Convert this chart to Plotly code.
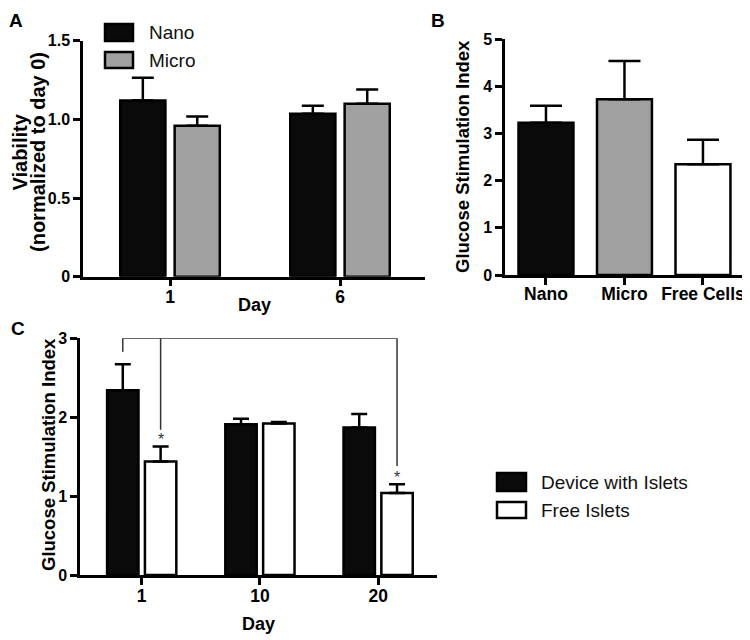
import plotly.graph_objects as go

# ---------------- data ----------------
a_days = ["1", "6"]
a_nano = [1.12, 1.035]
a_nano_err = [0.145, 0.052]
a_micro = [0.96, 1.10]
a_micro_err = [0.058, 0.09]

b_groups = ["Nano", "Micro", "Free Cells"]
b_values = [3.23, 3.73, 2.35]
b_err = [0.36, 0.81, 0.52]

c_days = ["1", "10", "20"]
c_device = [2.34, 1.91, 1.87]
c_device_err = [0.33, 0.07, 0.17]
c_free = [1.44, 1.92, 1.04]
c_free_err = [0.19, 0.02, 0.11]

# ---------------- style ----------------
PAGE_MARGIN = 8  # default body margin of the html page
W, H = 750 - PAGE_MARGIN, 640 - PAGE_MARGIN
BLACK = "#0a0a0a"
GREY = "#a0a0a0"
WHITE = "#ffffff"
FONT = "Liberation Sans, Arial, sans-serif"
LW = 2.5
BARGAP = 0.36
GROUPGAP = 0.17


def px(x):
    return (x - PAGE_MARGIN) / W


def py(y):
    return 1 - (y - PAGE_MARGIN) / H


def err(vals, w):
    return dict(type="data", array=vals, arrayminus=[0] * len(vals), symmetric=False,
                color="black", thickness=LW, width=w)


fig = go.Figure()

# Panel A
fig.add_trace(go.Bar(x=a_days, y=a_nano, name="Nano", marker=dict(color=BLACK, line=dict(color="black", width=LW)),
                     error_y=err(a_nano_err, 11), xaxis="x", yaxis="y", showlegend=False))
fig.add_trace(go.Bar(x=a_days, y=a_micro, name="Micro", marker=dict(color=GREY, line=dict(color="black", width=LW)),
                     error_y=err(a_micro_err, 11), xaxis="x", yaxis="y", showlegend=False))

# Panel B
fig.add_trace(go.Bar(x=b_groups, y=b_values, width=0.7,
                     marker=dict(color=[BLACK, GREY, WHITE], line=dict(color="black", width=LW)),
                     error_y=err(b_err, 16), xaxis="x2", yaxis="y2", showlegend=False))

# Panel C
fig.add_trace(go.Bar(x=c_days, y=c_device, name="Device with Islets",
                     marker=dict(color=BLACK, line=dict(color="black", width=LW)),
                     error_y=err(c_device_err, 8), xaxis="x3", yaxis="y3", showlegend=False))
fig.add_trace(go.Bar(x=c_days, y=c_free, name="Free Islets",
                     marker=dict(color=WHITE, line=dict(color="black", width=LW)),
                     error_y=err(c_free_err, 8), xaxis="x3", yaxis="y3", showlegend=False))

xtickfont = dict(family=FONT, size=17.5, color="black", weight="bold")
ytickfont = dict(family=FONT, size=16, color="black", weight="bold")
common = dict(showline=True, linecolor="black", linewidth=LW, ticks="outside", ticklen=7,
              tickwidth=LW, tickcolor="black", showgrid=False, zeroline=False,
              automargin=False, fixedrange=True, ticklabeloverflow="allow")

fig.update_layout(
    width=W, height=H, margin=dict(l=0, r=0, t=0, b=0),
    paper_bgcolor="white", plot_bgcolor="white",
    barmode="group", bargap=BARGAP, bargroupgap=GROUPGAP,
    xaxis=dict(domain=[px(83), px(425)], type="category", range=[-0.512, 1.5], anchor="y",
               ticklabelstandoff=-4, tickfont=xtickfont, **common),
    yaxis=dict(domain=[py(276.7), py(40.7)], range=[0, 1.5], tickvals=[0, 0.5, 1, 1.5],
               ticktext=["0", "0.5", "1.0", "1.5"], anchor="x", tickfont=ytickfont, **common),
    xaxis2=dict(domain=[px(505), px(743)], type="category", range=[-0.522, 2.51], anchor="y2",
                ticklabelstandoff=-6, tickfont=xtickfont, **common),
    yaxis2=dict(domain=[py(275), py(39.3)], range=[0, 5], tickvals=[0, 1, 2, 3, 4, 5], anchor="x2",
                tickfont=ytickfont, **common),
    xaxis3=dict(domain=[px(80), px(437)], type="category", range=[-0.522, 2.498], anchor="y3",
                ticklabelstandoff=-4, tickfont=xtickfont, **common),
    yaxis3=dict(domain=[py(575), py(338.3)], range=[0, 3], tickvals=[0, 1, 2, 3], anchor="x3",
                tickfont=ytickfont, **common),
)

annotations = []


def text(t, x, y, size=18, bold=True, angle=0, xanchor="center", yanchor="middle", color="black"):
    annotations.append(dict(text=t, x=px(x), y=py(y), xref="paper", yref="paper", showarrow=False,
                            textangle=angle, xanchor=xanchor, yanchor=yanchor,
                            font=dict(family=FONT, size=size, color=color, weight="bold" if bold else "normal")))


# panel letters
text("A", 16, PAGE_MARGIN, size=19, yanchor="top")
text("B", 438, PAGE_MARGIN, size=19, yanchor="top")
text("C", 18, 328, size=19)

# axis titles
text("Viability", 19.5, 152, size=20, angle=-90)
text("(normalized to day 0)", 38, 152, size=20, angle=-90)
text("Day", 254, 305)
text("Glucose Stimulation Index", 462, 157, size=18.5, angle=-90)
text("Glucose Stimulation Index", 48, 455, size=18.5, angle=-90)
text("Day", 258.5, 624)

# manual legends
shapes = []


def swatch(x0, y0, x1, y1, fill):
    shapes.append(dict(type="rect", xref="paper", yref="paper", x0=px(x0), x1=px(x1), y0=py(y1), y1=py(y0),
                       fillcolor=fill, line=dict(color="black", width=LW)))


swatch(105, 24, 133, 41, BLACK)
swatch(105, 52, 133, 68, GREY)
text("Nano", 147, 33, size=19, bold=False, xanchor="left", color="#111")
text("Micro", 147, 60, size=19, bold=False, xanchor="left", color="#111")

swatch(497, 473, 526, 491, BLACK)
swatch(497, 502, 526, 518, WHITE)
text("Device with Islets", 539, 482, size=19, bold=False, xanchor="left", color="#111")
text("Free Islets", 539, 510, size=19, bold=False, xanchor="left", color="#111")

# significance brackets in panel C (positions from bar grouping and data)
off = (1 - BARGAP) / 4
top = 3.0
i1, i20 = c_days.index("1"), c_days.index("20")
left_x = i1 - off
mid_x = i1 + off
right_x = i20 + off
left_end = c_device[i1] + c_device_err[i1] + 0.16
mid_end = c_free[i1] + c_free_err[i1] + 0.21
right_end = c_free[i20] + c_free_err[i20] + 0.23
br = dict(color="#333333", width=1.5)
shapes.append(dict(type="path", xref="x3", yref="y3",
                   path=f"M {left_x},{left_end} L {left_x},{top} L {right_x},{top} L {right_x},{right_end}",
                   line=br))
shapes.append(dict(type="line", xref="x3", yref="y3", x0=mid_x, x1=mid_x, y0=top, y1=mid_end, line=br))

for xi, yv in [(mid_x, c_free[i1] + c_free_err[i1]), (right_x, c_free[i20] + c_free_err[i20])]:
    annotations.append(dict(text="*", x=xi, y=yv, xref="x3", yref="y3", showarrow=False,
                            xanchor="center", yanchor="bottom", yshift=-4,
                            font=dict(family=FONT, size=16, color="#333333")))

fig.update_layout(annotations=annotations, shapes=shapes)
fig.write_html("out.html")
